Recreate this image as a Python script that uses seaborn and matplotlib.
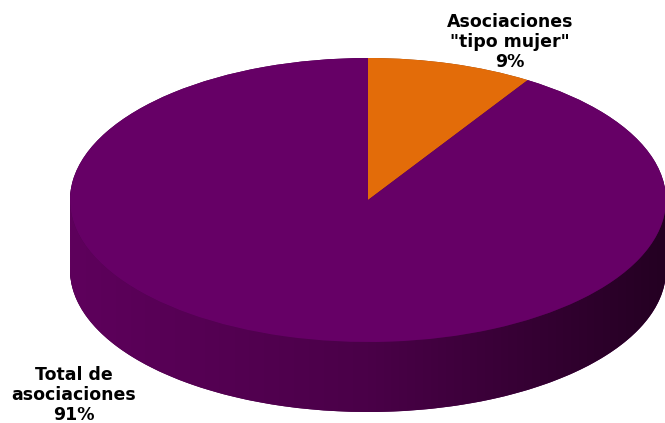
import numpy as np
import seaborn as sns
import matplotlib.pyplot as plt
from matplotlib.patches import PathPatch
from matplotlib.path import Path
from matplotlib.colors import LinearSegmentedColormap

# datos
etiquetas = ['Asociaciones\n"tipo mujer"\n9%', 'Total de\nasociaciones\n91%']
valores = [9, 91]
colores = ['#e36c09', '#660066']
colores_lado = ['#8a3e05', '#4a004a']

sns.set_theme(style='white')
plt.rcParams['font.family'] = ['DejaVu Sans']

W, H = 665, 423
a, b = 298, 142          # semiejes de la elipse (px)
cx, cy = 368, 200        # centro en px
prof = 70                # profundidad del lado (px)
k = a / b                # escala vertical

fig = plt.figure(figsize=(6.65, 4.23), dpi=100)
ax = fig.add_axes([0, 0, 1, 1])

def ypx(py):
    return (H - py) * k

# lado 3D: pies apilados
for d in np.linspace(prof, 0, 60):
    ax.pie(valores, colors=colores_lado, startangle=90, counterclock=False,
           radius=a, center=(cx, ypx(cy + d)), frame=True,
           wedgeprops=dict(linewidth=0))

# degradado horizontal del lado
t = np.linspace(0, np.pi, 200)
sup = np.column_stack([cx - a * np.cos(t), ypx(cy) - a * np.sin(t)])
inf = np.column_stack([cx + a * np.cos(t), ypx(cy + prof) - a * np.sin(t)])
borde = Path(np.vstack([sup, inf, sup[:1]]))
cmap = LinearSegmentedColormap.from_list('lado', ['#5e005c', '#4a0048', '#240022'])
img = ax.imshow(np.linspace(0, 1, 256)[None, :], cmap=cmap, aspect='auto',
                extent=(cx - a, cx + a, ypx(cy + prof + b), ypx(cy)), zorder=2)
clip = PathPatch(borde, transform=ax.transData, facecolor='none', edgecolor='none')
ax.add_patch(clip)
img.set_clip_path(clip)

# cara superior
wedges, _ = ax.pie(valores, colors=colores, startangle=90, counterclock=False,
                   radius=a, center=(cx, ypx(cy)), frame=True,
                   wedgeprops=dict(linewidth=0))
for w in wedges:
    w.set_zorder(3)

ax.text(510, ypx(42), etiquetas[0], ha='center', va='center', fontsize=12.5,
        fontweight='bold', linespacing=1.15, color='black', zorder=4)
ax.text(74, ypx(395), etiquetas[1], ha='center', va='center', fontsize=12.5,
        fontweight='bold', linespacing=1.15, color='black', zorder=4)

ax.set_aspect('auto')
ax.set_xlim(0, W)
ax.set_ylim(0, H * k)
ax.axis('off')

plt.savefig('out.png', dpi=100)
